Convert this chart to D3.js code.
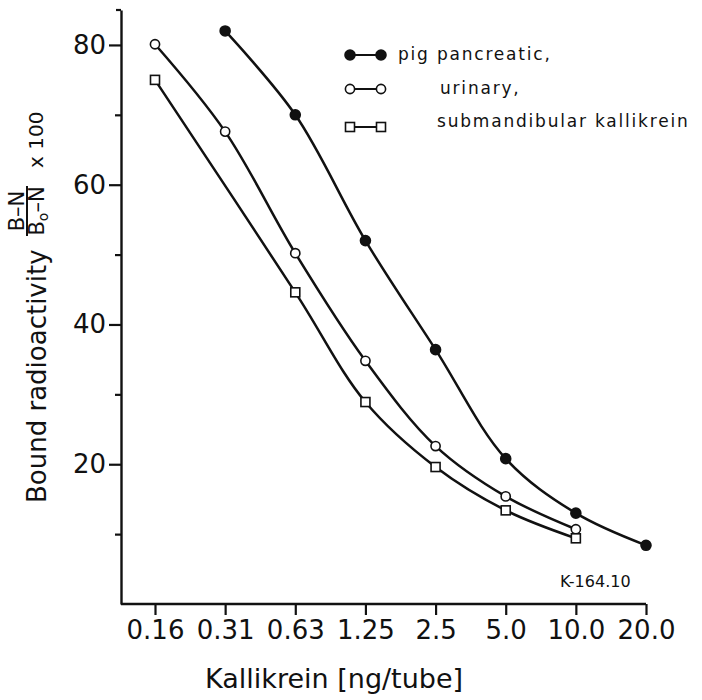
<!DOCTYPE html>
<html lang="en">
  <head>
    <meta charset="utf-8">
    <title>Kallikrein binding curves</title>
    <script src="https://cdn.jsdelivr.net/npm/d3@7"></script>
    <style>
      body { margin: 0; background: #fff; }
      text { font-family: "DejaVu Sans", sans-serif; fill: #111; }
    </style>
  </head>
  <body>
    <script>

      /*
      DATA
       */

      const doses = ["0.16", "0.31", "0.63", "1.25", "2.5", "5.0", "10.0", "20.0"];
      const pig_pancreatic = [null, 82, 70, 52, 36.4, 20.8, 13, 8.4];
      const urinary = [80.1, 67.6, 50.2, 34.8, 22.6, 15.4, 10.7, null];
      const submandibular = [75, null, 44.6, 28.9, 19.6, 13.4, 9.4, null];
      const y_major = [20, 40, 60, 80];
      const y_minor = [10, 30, 50, 70];
      const legend_labels = ["pig pancreatic,", "urinary,", "submandibular kallikrein"];

      /*
      LAYOUT
       */

      const WIDTH = 702;
      const HEIGHT = 700;
      const AXIS_X = 121;
      const AXIS_Y = 604;
      const Y_TOP = 10;
      const STROKE = "#111";

      let svg = d3.select("body").append("svg")
        .attr("width", WIDTH)
        .attr("height", HEIGHT);

      let x = d3.scalePoint().domain(doses).range([155, 646]);
      let y = d3.scaleLinear().domain([0, 85]).range([AXIS_Y, Y_TOP]);

      /* y axis */
      let g_y = svg.append("g").attr("transform", "translate(" + AXIS_X + ",0)");
      g_y.call(d3.axisLeft(y).tickValues(y_major).tickSize(12).tickSizeOuter(0).tickPadding(3))
        .call(g => g.select(".domain").attr("stroke", STROKE).attr("stroke-width", 2.4))
        .call(g => g.selectAll(".tick line").attr("stroke", STROKE).attr("stroke-width", 2.2))
        .call(g => g.selectAll(".tick text")
          .attr("font-family", "Liberation Sans, sans-serif")
          .attr("font-size", 26).attr("fill", "#111"));
      g_y.append("g")
        .call(d3.axisLeft(y).tickValues(y_minor).tickSize(6).tickFormat(""))
        .call(g => g.select(".domain").remove())
        .call(g => g.selectAll(".tick line").attr("stroke", STROKE).attr("stroke-width", 2.2));
      // small cap at the top of the axis
      g_y.append("line")
        .attr("x1", -5).attr("x2", 0)
        .attr("y1", y(85)).attr("y2", y(85))
        .attr("stroke", STROKE).attr("stroke-width", 2.2);

      /* x axis */
      let g_x = svg.append("g").attr("transform", "translate(0," + AXIS_Y + ")");
      g_x.call(d3.axisBottom(x).tickSize(11).tickSizeOuter(0).tickPadding(6))
        .call(g => g.select(".domain").remove())
        .call(g => g.selectAll(".tick line").attr("stroke", STROKE).attr("stroke-width", 2.2))
        .call(g => g.selectAll(".tick text")
          .attr("font-family", "Liberation Sans, sans-serif")
          .attr("font-size", 26).attr("fill", "#111"));
      g_x.append("line")
        .attr("x1", AXIS_X).attr("x2", x(doses[doses.length - 1]))
        .attr("y1", 0).attr("y2", 0)
        .attr("stroke", STROKE).attr("stroke-width", 2.4);

      /* axis titles */
      svg.append("text")
        .attr("x", 205).attr("y", 688)
        .attr("font-size", 27)
        .text("Kallikrein [ng/tube]");

      let g_ylab = svg.append("g").attr("transform", "rotate(-90)");
      g_ylab.append("text")
        .attr("x", -503).attr("y", 46)
        .attr("font-size", 26)
        .text("Bound radioactivity");
      g_ylab.append("text")
        .attr("x", -211).attr("y", 24)
        .attr("text-anchor", "middle")
        .attr("font-size", 21)
        .text("B–N");
      g_ylab.append("line")
        .attr("x1", -236).attr("x2", -186)
        .attr("y1", 27).attr("y2", 27)
        .attr("stroke", STROKE).attr("stroke-width", 2);
      let denom = g_ylab.append("text")
        .attr("x", -211).attr("y", 44)
        .attr("text-anchor", "middle")
        .attr("font-size", 21);
      denom.append("tspan").text("B");
      denom.append("tspan").attr("dy", 4).attr("font-size", 14).text("o");
      denom.append("tspan").attr("dy", -4).text("–N");
      g_ylab.append("text")
        .attr("x", -168).attr("y", 43)
        .attr("font-size", 20)
        .text("x 100");

      /* curves */
      let series = [
        {name: legend_labels[0], values: pig_pancreatic, mark: "dot"},
        {name: legend_labels[1], values: urinary, mark: "circle"},
        {name: legend_labels[2], values: submandibular, mark: "square"}
      ];

      let line = d3.line()
        .x(d => x(d.dose))
        .y(d => y(d.value))
        .curve(d3.curveCatmullRom.alpha(0.5));

      function add_mark(g, mark, cx, cy){
        if (mark === "square") {
          return g.append("rect")
            .attr("x", cx - 4.5).attr("y", cy - 4.5)
            .attr("width", 9).attr("height", 9)
            .attr("fill", "#fff").attr("stroke", STROKE).attr("stroke-width", 1.6);
        }
        return g.append("circle")
          .attr("cx", cx).attr("cy", cy).attr("r", mark === "dot" ? 5 : 4.6)
          .attr("fill", mark === "dot" ? STROKE : "#fff")
          .attr("stroke", STROKE).attr("stroke-width", 1.6);
      }

      let g_plot = svg.append("g");
      series.forEach(s => {
        let pts = doses.map((d, i) => ({dose: d, value: s.values[i]})).filter(p => p.value !== null);
        g_plot.append("path")
          .datum(pts)
          .attr("d", line)
          .attr("fill", "none")
          .attr("stroke", STROKE)
          .attr("stroke-width", 2.5);
        pts.forEach(p => add_mark(g_plot, s.mark, x(p.dose), y(p.value)));
      });

      /* legend */
      const LEGEND_X1 = 350;
      const LEGEND_X2 = 381;
      const LEGEND_ROWS = [55, 89, 127];
      const LEGEND_TEXT_X = [398, 440, 437];
      let g_leg = svg.append("g");
      series.forEach((s, i) => {
        let ly = LEGEND_ROWS[i];
        g_leg.append("line")
          .attr("x1", LEGEND_X1).attr("x2", LEGEND_X2)
          .attr("y1", ly).attr("y2", ly)
          .attr("stroke", STROKE).attr("stroke-width", 2);
        add_mark(g_leg, s.mark, LEGEND_X1, ly);
        add_mark(g_leg, s.mark, LEGEND_X2, ly);
        g_leg.append("text")
          .attr("x", LEGEND_TEXT_X[i]).attr("y", ly + (i === 2 ? 0 : 5))
          .attr("font-size", 17)
          .attr("letter-spacing", 1.8)
          .text(s.name);
      });

      svg.append("text")
        .attr("x", 560).attr("y", 587)
        .attr("font-size", 16)
        .text("K-164.10");

    </script>
  </body>
</html>
